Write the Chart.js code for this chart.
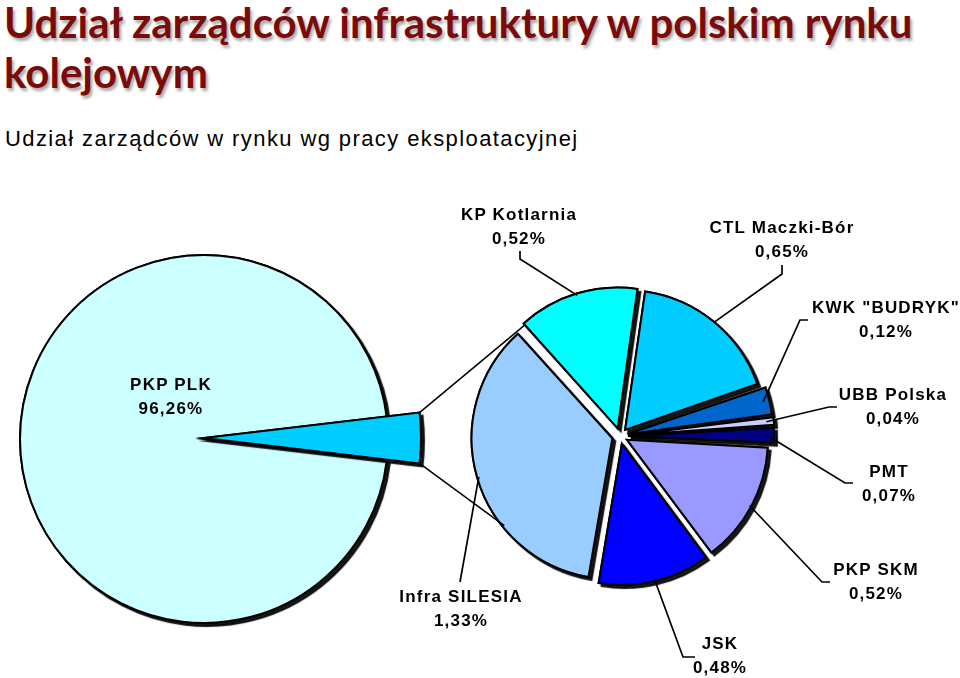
<!DOCTYPE html>
<html>
<head>
<meta charset="utf-8">
<script src="https://cdn.jsdelivr.net/npm/chart.js@4.4.1/dist/chart.umd.min.js"></script>
<style>
  body { margin:0; background:#fff; width:960px; height:678px; overflow:hidden; position:relative;
         font-family:"Liberation Sans", Arial, sans-serif; }
  canvas { position:absolute; left:0; top:0; }
  #title { position:absolute; left:4px; top:-3px; font-family:Lato, "Open Sans", sans-serif; font-weight:bold;
           font-size:42px; line-height:50px; color:#7b0b0b; text-shadow:2px 3px 3px rgba(0,0,0,.35); white-space:nowrap; }
  #sub { position:absolute; left:5px; top:126px; font-size:22px; letter-spacing:1.4px; white-space:nowrap; }
  .lbl { position:absolute; transform:translateX(-50%); font-weight:bold; font-size:17px; letter-spacing:1.2px;
         line-height:24px; text-align:center; white-space:nowrap; color:#000; }
</style>
</head>
<body>
<div id="title">Udział zarządców infrastruktury w polskim rynku<br>kolejowym</div>
<div id="sub">Udział zarządców w rynku wg pracy eksploatacyjnej</div>
<canvas id="c-big" width="960" height="678"></canvas>
<canvas id="c-wedge" width="960" height="678"></canvas>
<canvas id="c-sub" width="960" height="678"></canvas>
<script>
// Dane: główny wykres (PKP PLK + reszta) i wykres pomocniczy z rozbiciem reszty
const mainLabels = ['PKP PLK', 'Pozostali zarządcy'];
const mainValues = [96.26, 3.74];
const mainColors = ['#CCFFFF', '#00CCFF'];

const subLabels = ['KP Kotlarnia', 'CTL Maczki-Bór', 'KWK "BUDRYK"', 'UBB Polska', 'PMT', 'PKP SKM', 'JSK', 'Infra SILESIA'];
const subValues = [0.52, 0.65, 0.12, 0.04, 0.07, 0.52, 0.48, 1.33];
const subColors = ['#00FFFF', '#00CCFF', '#0066CC', '#CCCCFF', '#000080', '#9999FF', '#0000FF', '#99CCFF'];

// Układ strony (piksele)
const W = 960, H = 678;
const BIG   = { cx:204, cy:439, r:184 };
const WEDGE = { cx:204, cy:438, r:217 };
const SMALL = { cx:620, cy:436, r:139, rot:-42, explode:32 };
const LOWER_LINK_DEG = 231;   // gdzie dolna linia łącząca dotyka małego koła

// pozycje etykiet: środek x, środek pierwszej linii y, łamana odnośnika
const mainLabelPos = { x:171, y:385 };
const subLabelPos = [
  { x:519, y:215, path:[[520,251],[520,259]] },
  { x:782, y:228, path:[[782,265],[782,274]] },
  { x:886, y:308, path:[[808,320],[800,320]] },
  { x:893, y:395, path:[[837,407],[829,407]] },
  { x:889, y:472, path:[[853,483],[845,483]] },
  { x:876, y:570, path:[[830,582],[822,582]] },
  { x:720, y:644, path:[[695,657],[683,657]] },
  { x:461, y:597, path:[[460,582]] },
];

const pct = v => v.toFixed(2).replace('.', ',') + '%';

function padFor(cx, cy) {
  const h = Math.min(cx, W - cx, cy, H - cy);
  return { left: cx - h, right: W - cx - h, top: cy - h, bottom: H - cy - h };
}

// Cień przesunięty w prawo-dół: najpierw wszystkie wycinki z cieniem, potem normalny rysunek na wierzchu
const shadowPass = { id:'shadowPass', beforeDatasetsDraw(chart) {
  const ctx = chart.ctx;
  ctx.save();
  ctx.shadowColor = 'rgba(0,0,0,0.9)';
  ctx.shadowOffsetX = 3; ctx.shadowOffsetY = 3; ctx.shadowBlur = 1;
  chart.getDatasetMeta(0).data.forEach(a => a.draw(ctx));
  ctx.restore();
}};

function pie(id, center, labels, values, opts) {
  return new Chart(document.getElementById(id), {
    type: 'pie',
    data: { labels, datasets: [{
      data: values,
      backgroundColor: opts.colors,
      borderColor: '#000',
      borderWidth: opts.borderWidth,
      borderJoinStyle: 'miter',
      offset: opts.offset || 0,
      clip: false,
    }]},
    options: {
      responsive: false, animation: false, events: [],
      radius: center.r,
      rotation: opts.rotation,
      layout: { padding: padFor(center.cx, center.cy) },
      plugins: { legend: { display:false }, tooltip: { enabled:false } }
    },
    plugins: [shadowPass].concat(opts.plugins || [])
  });
}

const mainTotal = mainValues.reduce((a, b) => a + b, 0);
// wycinek "pozostałych" skierowany w prawo (90°)
const mainRot = 90 + (mainValues[1] / mainTotal * 360) / 2;

pie('c-big', BIG, mainLabels, mainValues, {
  colors: [mainColors[0], 'rgba(0,0,0,0)'], borderWidth: [2, 0], rotation: mainRot
});
const wedgeChart = pie('c-wedge', WEDGE, mainLabels, mainValues, {
  colors: ['rgba(0,0,0,0)', mainColors[1]], borderWidth: [0, 2], rotation: mainRot
});

// Odnośniki etykiet i linie łączące klin z małym kołem
const links = { id:'links', afterDatasetsDraw(chart) {
  const ctx = chart.ctx;
  const arcs = chart.getDatasetMeta(0).data;
  const edge = (a, ang, extra) => {
    const p = a.getProps(['x','y','startAngle','endAngle','outerRadius'], true);
    const mid = (p.startAngle + p.endAngle) / 2, sh = (a.options.offset || 0) / 4;
    const t = ang == null ? mid : ang, d = p.outerRadius + (extra || 0);
    return [p.x + Math.cos(mid) * sh + Math.cos(t) * d, p.y + Math.sin(mid) * sh + Math.sin(t) * d];
  };
  ctx.save();
  ctx.strokeStyle = '#000';
  ctx.lineWidth = 1.7;
  subLabelPos.forEach((lp, i) => {
    const end = edge(arcs[i]);
    ctx.beginPath();
    ctx.moveTo(lp.path[0][0], lp.path[0][1]);
    lp.path.slice(1).forEach(q => ctx.lineTo(q[0], q[1]));
    ctx.lineTo(end[0], end[1]);
    ctx.stroke();
  });
  const w = wedgeChart.getDatasetMeta(0).data[1].getProps(['x','y','startAngle','endAngle','outerRadius'], true);
  const first = arcs[0], last = arcs[arcs.length - 1];
  const upA = [w.x + Math.cos(w.startAngle) * w.outerRadius, w.y + Math.sin(w.startAngle) * w.outerRadius];
  const loA = [w.x + Math.cos(w.endAngle) * w.outerRadius, w.y + Math.sin(w.endAngle) * w.outerRadius];
  const upB = edge(first, first.startAngle);
  const loB = edge(last, (LOWER_LINK_DEG - 90) * Math.PI / 180);
  ctx.lineWidth = 1.5;
  ctx.beginPath();
  ctx.moveTo(upA[0], upA[1]); ctx.lineTo(upB[0], upB[1]);
  ctx.moveTo(loA[0], loA[1]); ctx.lineTo(loB[0], loB[1]);
  ctx.stroke();
  ctx.restore();
}};

pie('c-sub', SMALL, subLabels, subValues, {
  colors: subColors, borderWidth: 2, rotation: SMALL.rot, offset: SMALL.explode, plugins: [links]
});

// Etykiety jako tekst HTML
function addLabel(x, y, name, value) {
  const d = document.createElement('div');
  d.className = 'lbl';
  d.style.left = x + 'px';
  d.style.top = (y - 12) + 'px';
  d.innerHTML = name.replace(/"/g, '&quot;') + '<br>' + pct(value);
  document.body.appendChild(d);
}
addLabel(mainLabelPos.x, mainLabelPos.y, mainLabels[0], mainValues[0]);
subLabels.forEach((n, i) => addLabel(subLabelPos[i].x, subLabelPos[i].y, n, subValues[i]));
</script>
</body>
</html>
